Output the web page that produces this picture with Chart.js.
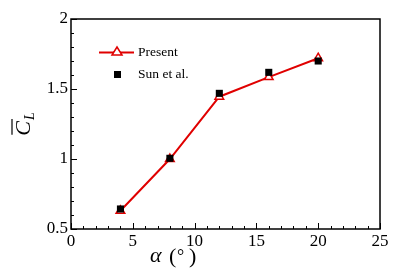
<!DOCTYPE html>
<html><head><meta charset="utf-8">
<script src="https://cdn.jsdelivr.net/npm/chart.js@4"></script>
<style>html,body{margin:0;padding:0;background:#fff}#wrap{width:407px;height:272px}</style>
</head><body><div id="wrap"><canvas id="c" width="407" height="272"></canvas></div>
<script>
const alphaDeg = [4, 8, 12, 16, 20];
const presentCL = [0.63, 1.0, 1.445, 1.585, 1.72];
const sunCL = [0.643, 1.005, 1.469, 1.619, 1.70];
const xTicks = [0, 5, 10, 15, 20, 25];
const yTicks = [0.5, 1, 1.5, 2];
const seriesNames = ['Present', 'Sun et al.'];

const SERIF = '"Liberation Serif", "DejaVu Serif", serif';

const frame = {
  id: 'frame',
  afterDraw(chart) {
    const {ctx, chartArea: a, scales: {x, y}} = chart;
    ctx.save();
    ctx.strokeStyle = '#000';
    ctx.lineWidth = 1.5;
    ctx.strokeRect(a.left, a.top, a.right - a.left, a.bottom - a.top);
    ctx.lineWidth = 1;
    for (let v = 0; v <= 25; v += 1) {
      const px = Math.round(x.getPixelForValue(v)) + 0.5;
      const len = v % 5 === 0 ? 6 : 3;
      ctx.beginPath(); ctx.moveTo(px, a.bottom); ctx.lineTo(px, a.bottom - len); ctx.stroke();
    }
    for (let i = 5; i <= 20; i++) {
      const v = i / 10;
      const py = Math.round(y.getPixelForValue(v)) + 0.5;
      const len = i % 5 === 0 ? 6 : 3;
      ctx.beginPath(); ctx.moveTo(a.left, py); ctx.lineTo(a.left + len, py); ctx.stroke();
    }
    ctx.fillStyle = '#000';
    // y title
    ctx.save();
    ctx.translate(30, 124);
    ctx.rotate(-Math.PI / 2);
    ctx.font = 'italic 22px ' + SERIF;
    ctx.textBaseline = 'alphabetic';
    ctx.textAlign = 'left';
    const cw = ctx.measureText('C').width;
    ctx.font = 'italic 14px ' + SERIF;
    const lw = ctx.measureText('L').width;
    const tot = cw + lw + 1;
    ctx.font = 'italic 22px ' + SERIF;
    ctx.fillText('C', -tot / 2, 0);
    ctx.font = 'italic 14px ' + SERIF;
    ctx.fillText('L', -tot / 2 + cw + 1, 4);
    ctx.lineWidth = 1.2;
    ctx.beginPath(); ctx.moveTo(-tot / 2 + 1, -18); ctx.lineTo(-tot / 2 + cw + 2, -18); ctx.stroke();
    ctx.restore();
    // x title: α (°)
    ctx.textBaseline = 'alphabetic';
    ctx.textAlign = 'left';
    ctx.font = 'italic 22px ' + SERIF;
    ctx.fillText('α', 150, 262);
    ctx.font = '22px ' + SERIF;
    ctx.fillText('(', 169, 263);
    ctx.font = '18px ' + SERIF;
    ctx.fillText('°', 177, 262);
    ctx.font = '22px ' + SERIF;
    ctx.fillText(')', 189, 263);
    // legend
    ctx.strokeStyle = '#e00000';
    ctx.lineWidth = 2;
    ctx.beginPath(); ctx.moveTo(99, 52.5); ctx.lineTo(134, 52.5); ctx.stroke();
    ctx.fillStyle = '#fff';
    ctx.lineWidth = 1.5;
    ctx.beginPath(); ctx.moveTo(117, 47); ctx.lineTo(122, 55); ctx.lineTo(112, 55); ctx.closePath(); ctx.fill(); ctx.stroke();
    ctx.fillStyle = '#000';
    ctx.fillRect(114, 71, 7, 7);
    ctx.font = '13.5px ' + SERIF;
    ctx.textBaseline = 'middle';
    ctx.fillText(seriesNames[0], 138, 52);
    ctx.fillText(seriesNames[1], 138, 74);
    ctx.restore();
  }
};

new Chart(document.getElementById('c'), {
  type: 'line',
  data: {
    datasets: [
      {
        label: seriesNames[1],
        data: alphaDeg.map((a, i) => ({x: a, y: sunCL[i]})),
        showLine: false,
        pointStyle: 'rect',
        pointRadius: 5,
        backgroundColor: '#000',
        borderColor: '#000',
        borderWidth: 0,
        order: 0
      },
      {
        label: seriesNames[0],
        data: alphaDeg.map((a, i) => ({x: a, y: presentCL[i]})),
        borderColor: '#e00000',
        borderWidth: 2,
        pointStyle: 'triangle',
        pointRadius: 5,
        pointBorderWidth: 1.5,
        pointBackgroundColor: '#fff',
        pointBorderColor: '#e00000',
        tension: 0,
        order: 1
      }
    ]
  },
  options: {
    responsive: false,
    animation: false,
    events: [],
    layout: {padding: {left: 0, right: 27, top: 19, bottom: 0}},
    plugins: {legend: {display: false}, tooltip: {enabled: false}},
    scales: {
      x: {
        type: 'linear', min: 0, max: 25,
        afterFit(s) { s.height = 43; },
        afterBuildTicks(s) { s.ticks = xTicks.map(v => ({value: v})); },
        grid: {display: false, drawTicks: false},
        border: {display: false},
        ticks: {color: '#000', padding: 2, font: {family: SERIF, size: 17}, maxRotation: 0}
      },
      y: {
        type: 'linear', min: 0.5, max: 2,
        afterFit(s) { s.width = 71; },
        afterBuildTicks(s) { s.ticks = yTicks.map(v => ({value: v})); },
        grid: {display: false, drawTicks: false},
        border: {display: false},
        ticks: {color: '#000', padding: 3, font: {family: SERIF, size: 17}, callback: v => String(v)}
      }
    }
  },
  plugins: [frame]
});
</script></body></html>
